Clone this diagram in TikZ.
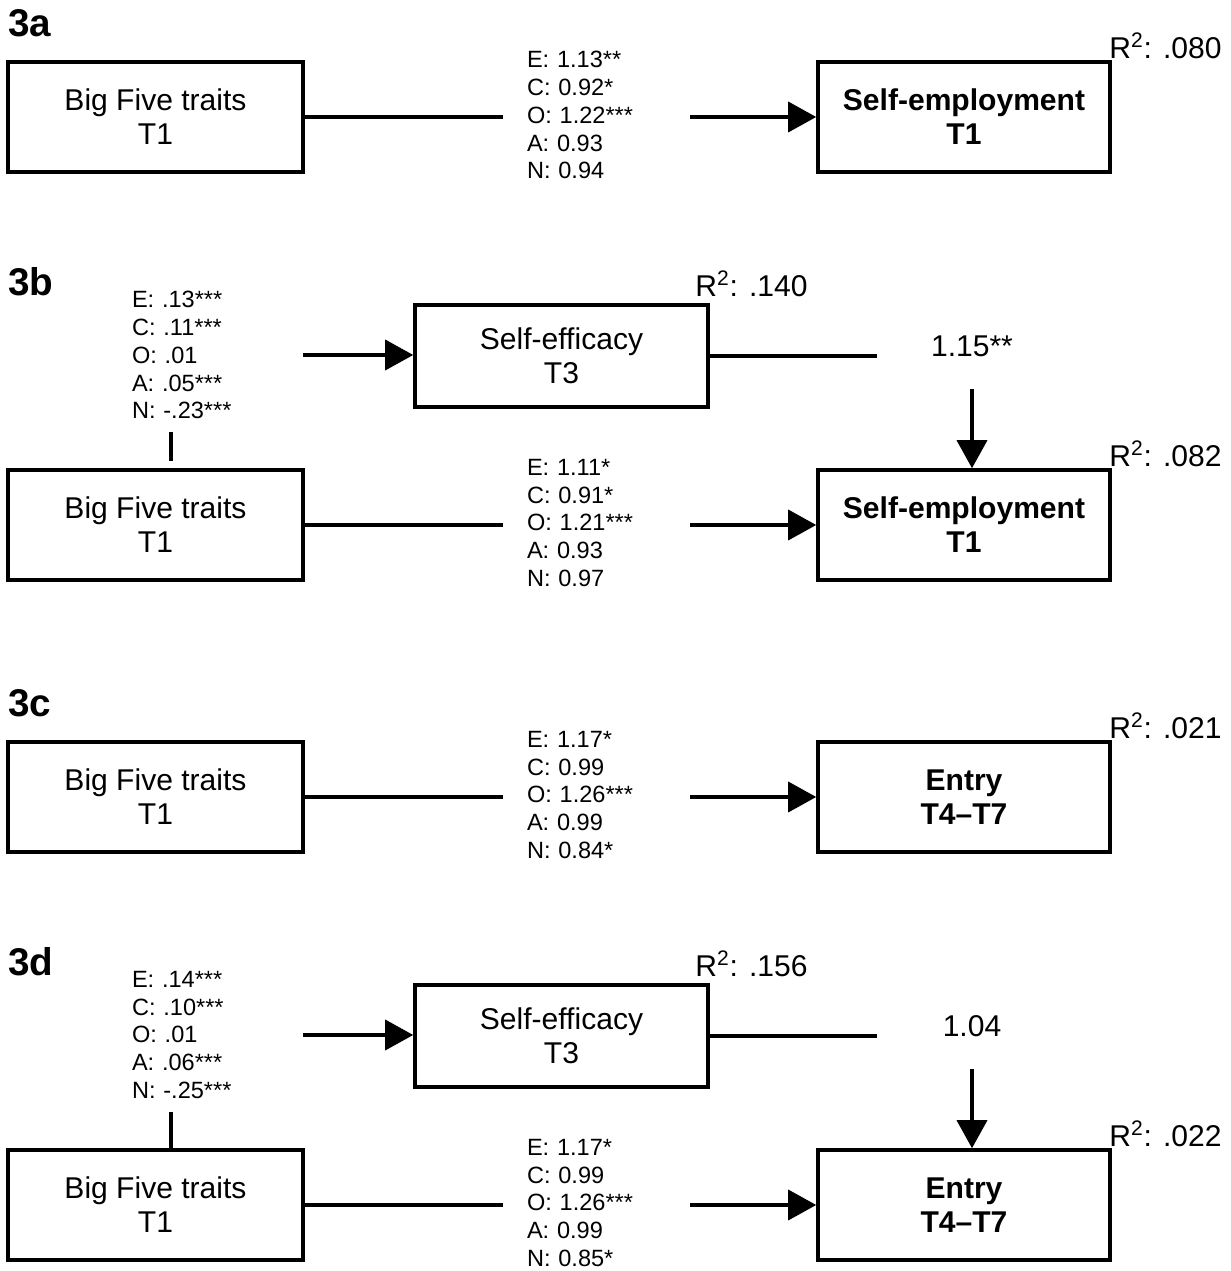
\documentclass[tikz,border=0pt]{standalone}
\usepackage{fontspec}
\setmainfont{Liberation Sans}
\usetikzlibrary{arrows.meta}

\begin{document}
\begin{tikzpicture}[
        box/.style={shape=rectangle, draw, line width=2pt, minimum width=5.9cm, minimum height=2.2cm, align=center, font=\fontsize{17.1}{19.4}\selectfont},
        outbox/.style={box, minimum width=5.84cm, font=\fontsize{17.1}{19.4}\selectfont\bfseries},
        medbox/.style={box, minimum width=5.86cm, minimum height=2.04cm},
        coef/.style={align=left, text width=2.78cm, inner xsep=0.48cm, font=\fontsize{13.4}{15.9}\selectfont},
        rsq/.style={anchor=base west, inner sep=0pt, font=\fontsize{17.1}{19.4}\selectfont},
        panel/.style={anchor=base west, inner sep=0pt, font=\fontsize{22}{26}\selectfont\bfseries},
        effect/.style={minimum width=3.8cm, minimum height=1.68cm, font=\fontsize{17.1}{19.4}\selectfont},
        wire/.style={line width=2pt},
        arrow/.style={wire, -{Triangle[length=0.56cm, width=0.6cm]}}
    ]
        \useasboundingbox (0,0) rectangle (24.62,25.42);
        % Panel 3a:
        \node[panel] (labA) at (0.16, 24.68){3a};
        \node[box] (bigA) at (3.11, 23.08){Big Five traits\\T1};
        \node[coef] (coefA) at (11.93, 23.12){E: 1.13**\\C: 0.92*\\O: 1.22***\\A: 0.93\\N: 0.94};
        \node[outbox] (outA) at (19.28, 23.08){Self-employment\\T1};
        \node[rsq] (rsqA) at (22.18, 24.24){R\textsuperscript{2}: .080};
        \draw[wire] (bigA.east) -- (bigA.east -| coefA.west);
        \draw[arrow] (outA.west -| coefA.east) -- (outA.west);
        % Panel 3b:
        \node[panel] (labB) at (0.16, 19.50){3b};
        \node[coef, text width=2.94cm] (coefBu) at (4.11, 18.32){E: .13***\\C: .11***\\O: .01\\A: .05***\\N: -.23***};
        \node[medbox] (effB) at (11.23, 18.30){Self-efficacy\\T3};
        \node[rsq] (rsqBu) at (13.90, 19.48){R\textsuperscript{2}: .140};
        \node[effect] (fxB) at (19.44, 18.49){1.15**};
        \node[box] (bigB) at (3.11, 14.92){Big Five traits\\T1};
        \node[coef] (coefB) at (11.93, 14.96){E: 1.11*\\C: 0.91*\\O: 1.21***\\A: 0.93\\N: 0.97};
        \node[outbox] (outB) at (19.28, 14.92){Self-employment\\T1};
        \node[rsq] (rsqB) at (22.18, 16.08){R\textsuperscript{2}: .082};
        \draw[arrow] (coefBu.east) -- (coefBu.east -| effB.west);
        \draw[wire] (effB.east) -- (effB.east -| fxB.west);
        \draw[arrow] (fxB.south) -- (fxB.south |- outB.north);
        \draw[wire, shorten <=0.13cm, shorten >=0.14cm] ([xshift=0.31cm]bigB.north |- coefBu.south) -- ([xshift=0.31cm]bigB.north);
        \draw[wire] (bigB.east) -- (bigB.east -| coefB.west);
        \draw[arrow] (outB.west -| coefB.east) -- (outB.west);
        % Panel 3c:
        \node[panel] (labC) at (0.16, 11.08){3c};
        \node[box] (bigC) at (3.11, 9.48){Big Five traits\\T1};
        \node[coef] (coefC) at (11.93, 9.52){E: 1.17*\\C: 0.99\\O: 1.26***\\A: 0.99\\N: 0.84*};
        \node[outbox] (outC) at (19.28, 9.48){Entry\\T4--T7};
        \node[rsq] (rsqC) at (22.18, 10.64){R\textsuperscript{2}: .021};
        \draw[wire] (bigC.east) -- (bigC.east -| coefC.west);
        \draw[arrow] (outC.west -| coefC.east) -- (outC.west);
        % Panel 3d:
        \node[panel] (labD) at (0.16, 5.90){3d};
        \node[coef, text width=2.94cm] (coefDu) at (4.11, 4.72){E: .14***\\C: .10***\\O: .01\\A: .06***\\N: -.25***};
        \node[medbox] (effD) at (11.23, 4.70){Self-efficacy\\T3};
        \node[rsq] (rsqDu) at (13.90, 5.88){R\textsuperscript{2}: .156};
        \node[effect] (fxD) at (19.44, 4.89){1.04};
        \node[box] (bigD) at (3.11, 1.32){Big Five traits\\T1};
        \node[coef] (coefD) at (11.93, 1.36){E: 1.17*\\C: 0.99\\O: 1.26***\\A: 0.99\\N: 0.85*};
        \node[outbox] (outD) at (19.28, 1.32){Entry\\T4--T7};
        \node[rsq] (rsqD) at (22.18, 2.48){R\textsuperscript{2}: .022};
        \draw[arrow] (coefDu.east) -- (coefDu.east -| effD.west);
        \draw[wire] (effD.east) -- (effD.east -| fxD.west);
        \draw[arrow] (fxD.south) -- (fxD.south |- outD.north);
        \draw[wire, shorten <=0.13cm] ([xshift=0.31cm]bigD.north |- coefDu.south) -- ([xshift=0.31cm]bigD.north);
        \draw[wire] (bigD.east) -- (bigD.east -| coefD.west);
        \draw[arrow] (outD.west -| coefD.east) -- (outD.west);
\end{tikzpicture}
\end{document}
